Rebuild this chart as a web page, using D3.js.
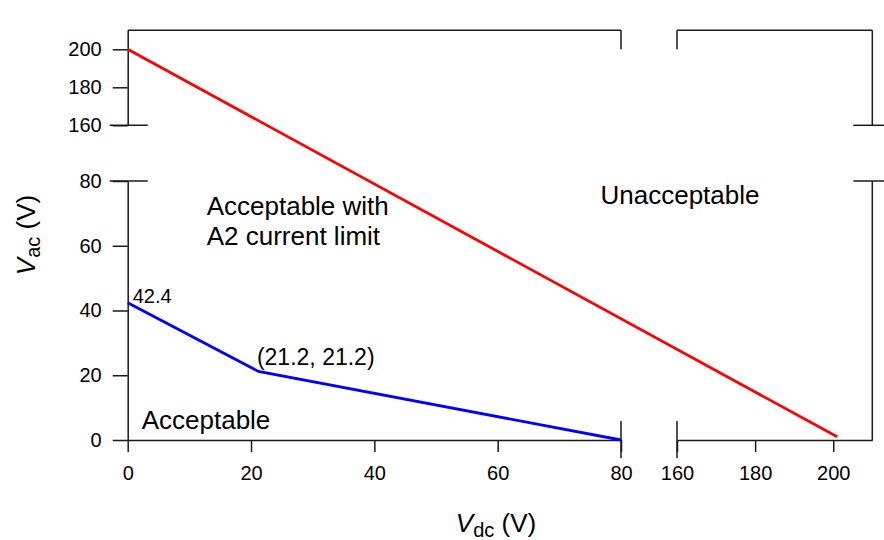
<!DOCTYPE html>
<html><head><meta charset="utf-8">
<script src="https://cdn.jsdelivr.net/npm/d3@7"></script>
<style>body{margin:0;background:#fff} svg text{font-family:"Liberation Sans",Arial,Helvetica,sans-serif;fill:#000}</style>
</head><body><svg id="c" width="884" height="540"></svg>
<script>
// ---- data ----
const xTicksLow = [0, 20, 40, 60, 80];
const xTicksHigh = [160, 180, 200];
const yTicksLow = [0, 20, 40, 60, 80];
const yTicksHigh = [160, 180, 200];
const redVdc = [0, 201];
const redVac = [200, 1];
const blueVdc = [0, 21.2, 80];
const blueVac = [42.4, 21.2, 0];

// ---- scales (broken axes) ----
const svg = d3.select('#c');
const xL = d3.scaleLinear().domain([0, 80]).range([127.7, 621]);
const xR = d3.scaleLinear().domain([160, 210]).range([677, 872.3]);
const yB = d3.scaleLinear().domain([0, 80]).range([440, 181]);
const yT = d3.scaleLinear().domain([160, 210]).range([125.3, 30.3]);
const sx = v => v <= 80 ? xL(v) : xR(v);
const sy = v => v <= 80 ? yB(v) : yT(v);

const AX = '#1a1a1a', AW = 1.5;
function styleAxis(g) {
  g.attr('font-family', null).attr('font-size', null);
  g.selectAll('path.domain').attr('stroke', AX).attr('stroke-width', AW);
  g.selectAll('.tick line').attr('stroke', AX).attr('stroke-width', AW);
  g.selectAll('.tick text').style('font-size', '20px');
}

svg.append('g').attr('transform', `translate(${xL(0)},0)`)
  .call(d3.axisLeft(yB).tickValues(yTicksLow).tickSize(15).tickSizeOuter(0).tickPadding(11))
  .call(styleAxis);
svg.append('g').attr('transform', `translate(${xL(0)},0)`)
  .call(d3.axisLeft(yT).tickValues(yTicksHigh).tickSize(15).tickSizeOuter(0).tickPadding(11))
  .call(styleAxis);
svg.append('g').attr('transform', `translate(0,${yB(0)})`)
  .call(d3.axisBottom(xL).tickValues(xTicksLow).tickSize(12).tickSizeOuter(0).tickPadding(14))
  .call(styleAxis);
svg.append('g').attr('transform', `translate(0,${yB(0)})`)
  .call(d3.axisBottom(xR).tickValues(xTicksHigh).tickSize(12).tickSizeOuter(0).tickPadding(14))
  .call(styleAxis);

// frame lines and break marks
const segs = [
  [xL(0), yT(210), xL(80), yT(210)],
  [xR(160), yT(210), xR(210), yT(210)],
  [xR(210), yT(210), xR(210), yT(160)],
  [xR(210), yB(80), xR(210), yB(0)],
  [xL(80), yB(0) - 19, xL(80), yB(0) + 18],
  [xR(160), yB(0) - 19, xR(160), yB(0) + 18],
  [xL(80), yT(210), xL(80), yT(210) + 19],
  [xR(160), yT(210), xR(160), yT(210) + 19],
  [xL(0) - 18, yB(80), xL(0) + 20, yB(80)],
  [xL(0) - 18, yT(160), xL(0) + 20, yT(160)],
  [xR(210) - 19, yB(80), xR(210) + 12, yB(80)],
  [xR(210) - 19, yT(160), xR(210) + 12, yT(160)]
];
svg.append('g').selectAll('line').data(segs).join('line')
  .attr('x1', d => d[0]).attr('y1', d => d[1]).attr('x2', d => d[2]).attr('y2', d => d[3])
  .attr('stroke', AX).attr('stroke-width', AW);

// data lines
const line = d3.line().x(d => sx(d[0])).y(d => sy(d[1]));
svg.append('path').datum(d3.zip(redVdc, redVac)).attr('d', line)
  .attr('fill', 'none').attr('stroke', '#ff0000').attr('stroke-width', 2.8);
svg.append('path').datum(d3.zip(blueVdc, blueVac)).attr('d', line)
  .attr('fill', 'none').attr('stroke', '#0000ff').attr('stroke-width', 2.8);

// annotations
const ann = svg.append('g');
ann.append('text').attr('x', sx(blueVdc[0]) + 5).attr('y', sy(blueVac[0])).style('font-size', '20px').text('42.4');
ann.append('text').attr('x', sx(blueVdc[1]) - 1.5).attr('y', sy(blueVac[1]) - 6.5).style('font-size', '23px').text('(21.2, 21.2)');
ann.append('text').attr('x', 206.7).attr('y', 215).style('font-size', '26px').text('Acceptable with');
ann.append('text').attr('x', 206.7).attr('y', 245).style('font-size', '26px').text('A2 current limit');
ann.append('text').attr('x', 600.5).attr('y', 204).style('font-size', '26px').text('Unacceptable');
ann.append('text').attr('x', 141.7).attr('y', 429.3).style('font-size', '26px').text('Acceptable');

// axis titles
const xt = svg.append('text').attr('x', 496).attr('y', 531.5).attr('text-anchor', 'middle').style('font-size', '26px');
xt.append('tspan').style('font-style', 'italic').text('V');
xt.append('tspan').attr('dy', 5).style('font-size', '20px').text('dc');
xt.append('tspan').attr('dy', -5).text(' (V)');

const yt = svg.append('text').attr('transform', 'translate(35,235) rotate(-90)').attr('text-anchor', 'middle').style('font-size', '26px');
yt.append('tspan').style('font-style', 'italic').text('V');
yt.append('tspan').attr('dy', 5).style('font-size', '20px').text('ac');
yt.append('tspan').attr('dy', -5).text(' (V)');
</script></body></html>
